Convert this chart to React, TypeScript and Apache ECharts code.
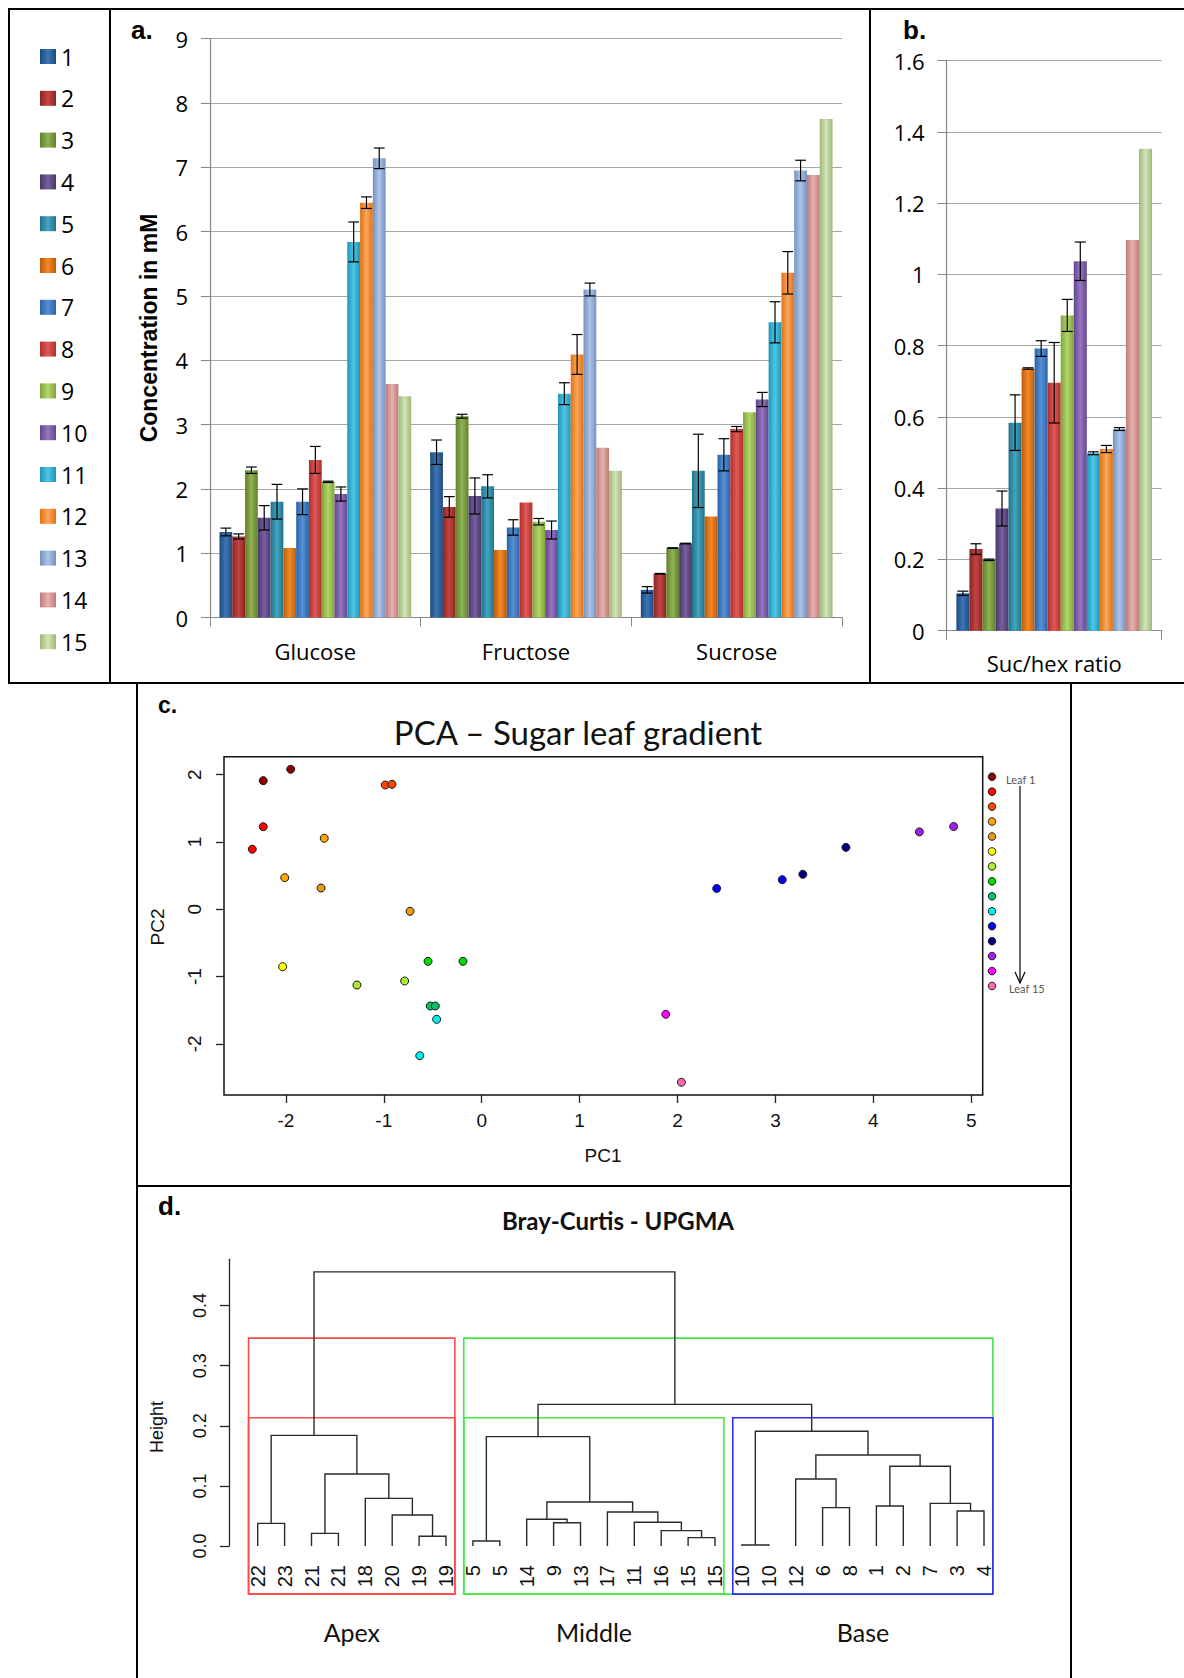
import React, { useEffect, useRef } from "react";
import * as echarts from "echarts";

// ---------- Panel a / b data ----------
const sugarCategories = ["Glucose", "Fructose", "Sucrose"];
const leafNames = ["1", "2", "3", "4", "5", "6", "7", "8", "9", "10", "11", "12", "13", "14", "15"];
const glucose = [1.33, 1.26, 2.29, 1.55, 1.8, 1.08, 1.8, 2.45, 2.11, 1.92, 5.84, 6.45, 7.14, 3.63, 3.44];
const glucoseErr = [0.06, 0.04, 0.05, 0.19, 0.27, 0, 0.2, 0.21, 0.01, 0.11, 0.31, 0.09, 0.16, 0, 0];
const fructose = [2.57, 1.72, 3.13, 1.89, 2.04, 1.05, 1.4, 1.79, 1.49, 1.36, 3.48, 4.09, 5.1, 2.64, 2.28];
const fructoseErr = [0.19, 0.16, 0.03, 0.28, 0.18, 0, 0.12, 0, 0.05, 0.14, 0.17, 0.31, 0.1, 0, 0];
const sucrose = [0.43, 0.68, 1.08, 1.15, 2.28, 1.57, 2.53, 2.93, 3.19, 3.39, 4.59, 5.36, 6.95, 6.88, 7.75];
const sucroseErr = [0.05, 0.005, 0.005, 0.005, 0.57, 0, 0.25, 0.04, 0, 0.11, 0.32, 0.33, 0.16, 0, 0];
const ratioCategory = ["Suc/hex ratio"];
const ratio = [0.105, 0.229, 0.199, 0.343, 0.584, 0.736, 0.792, 0.696, 0.885, 1.037, 0.498, 0.51, 0.566, 1.097, 1.353];
const ratioErr = [0.006, 0.015, 0.002, 0.049, 0.078, 0.002, 0.022, 0.113, 0.045, 0.054, 0.004, 0.01, 0.004, 0, 0];
const barEdge = ["#1F4B7E", "#8A2522", "#62802C", "#4A3768", "#237188", "#C25B02", "#2B63A8", "#B02E2B", "#80A43A", "#63468C", "#1C97BA", "#E07215", "#7592C0", "#BE7B78", "#9EB87C"];
const barMid = ["#3C76B6", "#C34542", "#90B352", "#7760A0", "#42A5C0", "#F08A2C", "#5590D6", "#E05A57", "#B2D66B", "#9676C0", "#50C6E5", "#FBA65A", "#ACC4E6", "#E6B1AF", "#D2E4B5"];

// ---------- Panel c data ----------
const pc1 = [-1.951, -2.231, -2.231, -2.343, -0.985, -0.916, -1.608, -2.012, -1.641, -0.732, -2.033, -1.274, -0.787, -0.548, -0.191, -0.525, -0.474, -0.46, -0.633, 2.4, 3.07, 3.28, 3.72, 4.47, 4.82, 1.88, 2.04];
const pc2 = [2.08, 1.911, 1.227, 0.892, 1.847, 1.857, 1.055, 0.47, 0.316, -0.03, -0.853, -1.125, -1.065, -0.773, -0.773, -1.437, -1.437, -1.635, -2.175, 0.31, 0.44, 0.52, 0.92, 1.15, 1.23, -1.56, -2.57];
const pcLeaf = [1, 1, 2, 2, 3, 3, 4, 4, 5, 5, 6, 7, 7, 8, 8, 9, 9, 10, 10, 11, 11, 12, 12, 13, 13, 14, 15];
const leafColors = ["#8B0000", "#FF0000", "#FF4500", "#FFA500", "#E89B10", "#FFFF00", "#ADEB2F", "#00DD00", "#00C466", "#00F0F0", "#0000FF", "#000080", "#A020F0", "#FF00FF", "#FF69B4"];
const pc1Ticks = [-2, -1, 0, 1, 2, 3, 4, 5];
const pc2Ticks = [-2, -1, 0, 1, 2];

// ---------- Panel d data ----------
const dendroLabels = ["22", "23", "21", "21", "18", "20", "19", "19", "5", "5", "14", "9", "13", "17", "11", "16", "15", "15", "10", "10", "12", "6", "8", "1", "2", "7", "3", "4"];
// R hclust style merges: negative = leaf position, positive = earlier merge
const mergeLeft = [-1, -3, -7, -6, -5, 2, 1, -9, -12, -11, -17, -16, -15, -14, 10, 8, -19, -22, -21, -24, -27, -26, 20, 19, 17, 16, 7];
const mergeRight = [-2, -4, -8, 3, 4, 5, 6, -10, -13, 9, -18, 11, 12, 13, 14, 15, -20, -23, 18, -25, -28, 21, 22, 23, 24, 25, 26];
const mergeHeight = [0.0377, 0.021, 0.0161, 0.0516, 0.0793, 0.1198, 0.184, 0.0083, 0.0388, 0.0444, 0.0139, 0.0255, 0.0394, 0.0566, 0.0732, 0.182, 0.0017, 0.0638, 0.1115, 0.0666, 0.0582, 0.071, 0.1326, 0.1514, 0.191, 0.2357, 0.456];
const heightTicks = [0, 0.1, 0.2, 0.3, 0.4];
const groupNames = ["Apex", "Middle", "Base"];
const clusterSizesK2 = [8, 20];
const clusterSizesK3 = [8, 10, 10];
const clusterColorsK2 = ["#FF4A4A", "#44E844"];
const clusterColorsK3 = ["#FF4A4A", "#44E844", "#2E2EF0"];
const rectBottom = -0.08;

function buildOption() {
  const gap = 0.09;
  const n = leafNames.length;
  const grad = (i: number) =>
    new echarts.graphic.LinearGradient(0, 0, 1, 0, [
      { offset: 0, color: barEdge[i] },
      { offset: 0.5, color: barMid[i] },
      { offset: 1, color: barEdge[i] },
    ]);

  const errorRender = (params: any, api: any) => {
    const c = api.value(0), v = api.value(1), e = api.value(2), s = api.value(3);
    const band = api.size([1, 0])[0];
    const inner = band * (1 - gap);
    const bw = inner / n;
    const cx = api.coord([c, v])[0] - inner / 2 + bw * (s + 0.5);
    const yt = api.coord([c, v + e])[1];
    const yb = api.coord([c, v - e])[1];
    const hw = bw * 0.42;
    const st = { stroke: "#000", lineWidth: 1.2 };
    return {
      type: "group",
      children: [
        { type: "line", shape: { x1: cx, y1: yt, x2: cx, y2: yb }, style: st },
        { type: "line", shape: { x1: cx - hw, y1: yt, x2: cx + hw, y2: yt }, style: st },
        { type: "line", shape: { x1: cx - hw, y1: yb, x2: cx + hw, y2: yb }, style: st },
      ],
    };
  };

  const sugarValues = [glucose, fructose, sucrose];
  const sugarErrors = [glucoseErr, fructoseErr, sucroseErr];
  const errA: number[][] = [];
  sugarValues.forEach((vals, c) =>
    vals.forEach((v, s) => {
      if (sugarErrors[c][s] > 0) errA.push([c, v, sugarErrors[c][s], s]);
    })
  );
  const errB: number[][] = [];
  ratio.forEach((v, s) => {
    if (ratioErr[s] > 0) errB.push([0, v, ratioErr[s], s]);
  });

  // dendrogram segments
  const nodeX: number[] = [];
  const pos = (ref: number) => (ref < 0 ? [-ref, 0] : [nodeX[ref - 1], mergeHeight[ref - 1]]);
  const segs: number[][] = [];
  mergeLeft.forEach((l, i) => {
    const a = pos(l);
    const b = pos(mergeRight[i]);
    nodeX[i] = (a[0] + b[0]) / 2;
    segs.push([a[0], a[1], b[0], b[1], mergeHeight[i]]);
  });
  const sortedH = [...mergeHeight].sort((x, y) => y - x);
  const cutK2 = (sortedH[0] + sortedH[1]) / 2;
  const cutK3 = (sortedH[1] + sortedH[2]) / 2;
  const rects: number[][] = [];
  const rectColors: string[] = [];
  const addRects = (sizes: number[], top: number, colors: string[]) => {
    let start = 0;
    sizes.forEach((sz, i) => {
      rects.push([start + 0.66, rectBottom, start + sz + 0.33, top]);
      rectColors.push(colors[i]);
      start += sz;
    });
  };
  addRects(clusterSizesK2, cutK2, clusterColorsK2);
  addRects(clusterSizesK3, cutK3, clusterColorsK3);
  const groupCenters: number[][] = [];
  {
    let start = 0;
    clusterSizesK3.forEach((sz) => {
      groupCenters.push([start + (sz + 1) / 2, 0]);
      start += sz;
    });
  }

  const excelAxisLabel = { fontFamily: "Open Sans", fontSize: 22, color: "#000" };

  const series: any[] = [];
  leafNames.forEach((name, i) => {
    series.push({
      type: "bar",
      name,
      xAxisIndex: 0,
      yAxisIndex: 0,
      barGap: "0%",
      barCategoryGap: "9%",
      itemStyle: { color: grad(i) },
      data: [glucose[i], fructose[i], sucrose[i]],
    });
  });
  leafNames.forEach((name, i) => {
    series.push({
      type: "bar",
      name,
      xAxisIndex: 1,
      yAxisIndex: 1,
      barGap: "0%",
      barCategoryGap: "9%",
      itemStyle: { color: grad(i) },
      data: [ratio[i]],
    });
  });
  series.push({
    type: "custom",
    xAxisIndex: 0,
    yAxisIndex: 0,
    z: 5,
    silent: true,
    clip: false,
    data: errA,
    encode: { x: 0, y: 1 },
    renderItem: errorRender,
  });
  series.push({
    type: "custom",
    xAxisIndex: 1,
    yAxisIndex: 1,
    z: 5,
    silent: true,
    clip: false,
    data: errB,
    encode: { x: 0, y: 1 },
    renderItem: errorRender,
  });
  series.push({
    type: "scatter",
    xAxisIndex: 2,
    yAxisIndex: 2,
    symbolSize: 8,
    data: pc1.map((x, i) => [x, pc2[i], pcLeaf[i]]),
    itemStyle: {
      color: (p: any) => leafColors[p.value[2] - 1],
      borderColor: "#1a1a1a",
      borderWidth: 1,
      opacity: 1,
    },
  });
  series.push({
    type: "custom",
    xAxisIndex: 3,
    yAxisIndex: 3,
    clip: false,
    silent: true,
    data: rects,
    encode: { x: [0, 2], y: [1, 3] },
    renderItem: (params: any, api: any) => {
      const a = api.coord([api.value(0), api.value(3)]);
      const b = api.coord([api.value(2), api.value(1)]);
      return {
        type: "rect",
        shape: { x: a[0], y: a[1], width: b[0] - a[0], height: b[1] - a[1] },
        style: { fill: "none", stroke: rectColors[params.dataIndex], lineWidth: 1.6 },
      };
    },
  });
  series.push({
    type: "custom",
    xAxisIndex: 3,
    yAxisIndex: 3,
    clip: false,
    silent: true,
    z: 4,
    data: segs,
    encode: { x: [0, 2], y: [1, 3, 4] },
    renderItem: (params: any, api: any) => {
      const xl = api.value(0), hl = api.value(1), xr = api.value(2), hr = api.value(3), h = api.value(4);
      return {
        type: "polyline",
        shape: { points: [api.coord([xl, hl]), api.coord([xl, h]), api.coord([xr, h]), api.coord([xr, hr])] },
        style: { stroke: "#2a2a2a", lineWidth: 1.4, fill: null },
      };
    },
  });
  series.push({
    type: "custom",
    xAxisIndex: 3,
    yAxisIndex: 3,
    clip: false,
    silent: true,
    data: dendroLabels.map((_, i) => [i + 1, 0]),
    encode: { x: 0, y: 1 },
    renderItem: (params: any, api: any) => {
      const p = api.coord([api.value(0), 0]);
      return {
        type: "text",
        x: p[0],
        y: p[1] + 19,
        rotation: Math.PI / 2,
        style: {
          text: dendroLabels[params.dataIndex],
          fontSize: 20,
          fontFamily: "Liberation Sans",
          fill: "#111",
          align: "right",
          verticalAlign: "middle",
        },
      };
    },
  });
  series.push({
    type: "custom",
    xAxisIndex: 3,
    yAxisIndex: 3,
    clip: false,
    silent: true,
    data: groupCenters,
    encode: { x: 0, y: 1 },
    renderItem: (params: any, api: any) => {
      const p = api.coord([api.value(0), 0]);
      return {
        type: "text",
        x: p[0],
        y: p[1] + 86,
        style: {
          text: groupNames[params.dataIndex],
          fontSize: 25,
          fontFamily: "Lato",
          fill: "#111",
          align: "center",
          verticalAlign: "middle",
        },
      };
    },
  });

  const rTick = { show: true, length: 8, lineStyle: { color: "#222", width: 1.3 } };
  const rLabel = { fontFamily: "Liberation Sans", fontSize: 19, color: "#111" };

  const ln = (x1: number, y1: number, x2: number, y2: number, w = 2) => ({
    type: "line",
    shape: { x1, y1, x2, y2 },
    style: { stroke: "#000", lineWidth: w },
    silent: true,
  });
  const txt = (x: number, y: number, text: string, font: any, extra: any = {}) => ({
    type: "text",
    x,
    y,
    silent: true,
    ...extra,
    style: { text, fill: "#000", align: "center", verticalAlign: "middle", ...font },
  });

  const graphic: any[] = [
    ln(8, 9, 1184, 9),
    ln(9, 8, 9, 684),
    ln(110, 8, 110, 684),
    ln(870, 8, 870, 684),
    ln(8, 683, 1184, 683),
    ln(137, 683, 137, 1678),
    ln(1071, 683, 1071, 1678),
    ln(136, 1186, 1072, 1186),
    txt(131, 30, "a.", { fontFamily: "Liberation Sans", fontWeight: "bold", fontSize: 26, align: "left" }),
    txt(903, 30, "b.", { fontFamily: "Liberation Sans", fontWeight: "bold", fontSize: 26, align: "left" }),
    txt(158, 705, "c.", { fontFamily: "Liberation Sans", fontWeight: "bold", fontSize: 23, align: "left" }),
    txt(158, 1206, "d.", { fontFamily: "Liberation Sans", fontWeight: "bold", fontSize: 26, align: "left" }),
    txt(149, 328, "Concentration in mM", { fontFamily: "Liberation Sans", fontWeight: "bold", fontSize: 23 }, { rotation: Math.PI / 2 }),
    txt(578, 732, "PCA – Sugar leaf gradient", { fontFamily: "Lato", fontSize: 33, fill: "#111" }),
    txt(603, 1155, "PC1", { fontFamily: "Liberation Sans", fontSize: 19, fill: "#111" }),
    txt(157, 927, "PC2", { fontFamily: "Liberation Sans", fontSize: 19, fill: "#111" }, { rotation: Math.PI / 2 }),
    txt(618, 1220, "Bray-Curtis - UPGMA", { fontFamily: "Lato", fontWeight: "bold", fontSize: 24, fill: "#111" }),
    txt(157, 1427, "Height", { fontFamily: "Liberation Sans", fontSize: 18, fill: "#111" }, { rotation: Math.PI / 2 }),
    txt(1006, 779, "Leaf 1", { fontFamily: "Lato", fontSize: 11, fill: "#555", align: "left" }),
    txt(1009, 988, "Leaf 15", { fontFamily: "Lato", fontSize: 11, fill: "#555", align: "left" }),
    ln(1020, 786, 1020, 982, 1.2),
    {
      type: "polyline",
      shape: { points: [[1015, 972], [1020, 983], [1025, 972]] },
      style: { stroke: "#000", lineWidth: 1.2, fill: null },
      silent: true,
    },
  ];
  leafColors.forEach((c, i) => {
    graphic.push({
      type: "circle",
      shape: { cx: 992, cy: 776.7 + i * 14.95, r: 3.8 },
      style: { fill: c, stroke: "#222", lineWidth: 1 },
      silent: true,
    });
  });

  return {
    animation: false,
    backgroundColor: "#fff",
    legend: {
      orient: "vertical",
      left: 40,
      top: 45,
      padding: 0,
      itemWidth: 16,
      itemHeight: 15,
      itemGap: 18.8,
      icon: "rect",
      selectedMode: false,
      data: leafNames,
      textStyle: { fontFamily: "Open Sans", fontSize: 23, color: "#000", lineHeight: 22 },
    },
    grid: [
      { left: 210, top: 38.7, width: 632, height: 578.8 },
      { left: 946.7, top: 60.7, width: 215, height: 570 },
      { left: 224, top: 756.7, width: 758.7, height: 338.3, show: true, borderColor: "#111", borderWidth: 1.5, backgroundColor: "transparent" },
      { left: 229, top: 1259.3, width: 781.9, height: 286.7 },
    ],
    xAxis: [
      {
        gridIndex: 0,
        type: "category",
        data: sugarCategories,
        axisLine: { lineStyle: { color: "#868686", width: 1.2 } },
        axisTick: { show: true, length: 9, interval: 0, lineStyle: { color: "#868686" } },
        axisLabel: { ...excelAxisLabel, margin: 22 },
      },
      {
        gridIndex: 1,
        type: "category",
        data: ratioCategory,
        axisLine: { lineStyle: { color: "#868686", width: 1.2 } },
        axisTick: { show: true, length: 9, interval: 0, lineStyle: { color: "#868686" } },
        axisLabel: { ...excelAxisLabel, margin: 21 },
      },
      {
        gridIndex: 2,
        type: "value",
        min: -2.632,
        max: 5.117,
        axisLine: { show: false, onZero: false },
        splitLine: { show: false },
        axisTick: { ...rTick, customValues: pc1Ticks },
        axisLabel: { ...rLabel, margin: 16, customValues: pc1Ticks },
      },
      {
        gridIndex: 3,
        type: "value",
        min: -0.067,
        max: 29,
        show: false,
      },
    ],
    yAxis: [
      {
        gridIndex: 0,
        type: "value",
        min: 0,
        max: 9,
        interval: 1,
        axisLine: { show: true, lineStyle: { color: "#868686", width: 1.2 } },
        axisTick: { show: true, length: 9, lineStyle: { color: "#868686" } },
        splitLine: { lineStyle: { color: "#A6A6A6", width: 1.2 } },
        axisLabel: { ...excelAxisLabel, margin: 22 },
      },
      {
        gridIndex: 1,
        type: "value",
        min: 0,
        max: 1.6,
        interval: 0.2,
        axisLine: { show: true, lineStyle: { color: "#868686", width: 1.2 } },
        axisTick: { show: true, length: 9, lineStyle: { color: "#868686" } },
        splitLine: { lineStyle: { color: "#A6A6A6", width: 1.2 } },
        axisLabel: { ...excelAxisLabel, margin: 22 },
      },
      {
        gridIndex: 2,
        type: "value",
        min: -2.759,
        max: 2.267,
        axisLine: { show: false, onZero: false },
        splitLine: { show: false },
        axisTick: { ...rTick, customValues: pc2Ticks },
        axisLabel: { ...rLabel, margin: 20, rotate: 90, customValues: pc2Ticks },
      },
      {
        gridIndex: 3,
        type: "value",
        min: 0,
        max: 0.477,
        axisLine: { show: true, onZero: false, lineStyle: { color: "#222", width: 1.3 } },
        splitLine: { show: false },
        axisTick: { ...rTick, length: 9, customValues: heightTicks },
        axisLabel: {
          ...rLabel,
          fontSize: 18,
          margin: 20,
          rotate: 90,
          customValues: heightTicks,
          formatter: (v: number) => v.toFixed(1),
        },
      },
    ],
    graphic,
    series,
  };
}

export default function App() {
  const ref = useRef<HTMLDivElement>(null);
  useEffect(() => {
    if (!ref.current) return;
    const chart = echarts.init(ref.current, null, { renderer: "svg" });
    chart.setOption(buildOption() as any);
    return () => chart.dispose();
  }, []);
  return (
    <div
      ref={ref}
      style={{ position: "absolute", left: 0, top: 0, width: 1184, height: 1678, background: "#fff" }}
    />
  );
}
